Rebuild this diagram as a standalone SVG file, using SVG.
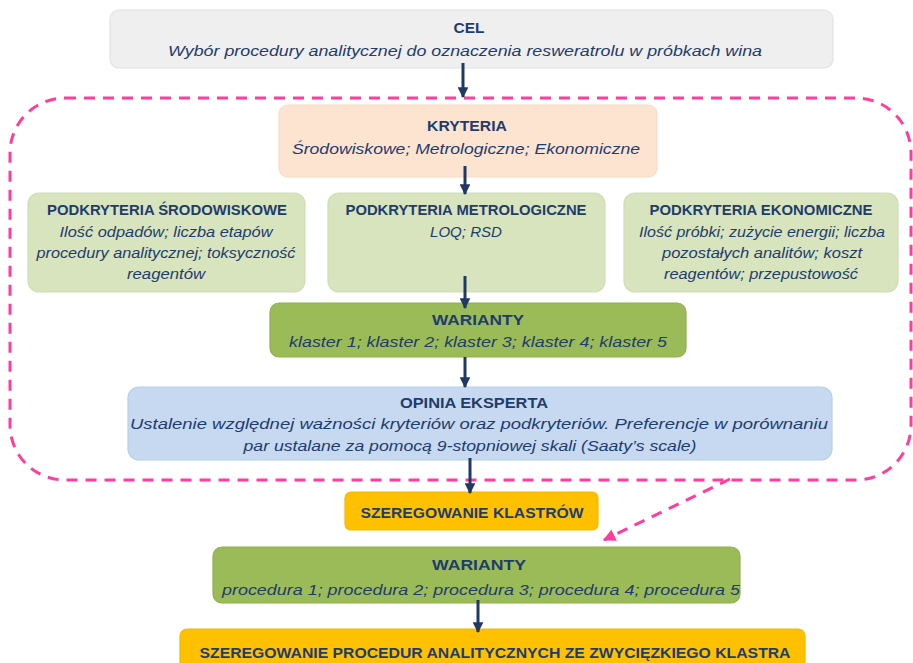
<svg xmlns="http://www.w3.org/2000/svg" width="913" height="663" viewBox="0 0 913 663">
<defs>
<marker id="ah" viewBox="0 0 10 10" refX="9" refY="5" markerWidth="3.6" markerHeight="3.6" orient="auto" markerUnits="strokeWidth"><path d="M0,0 L10,5 L0,10 Z" fill="#1f3864"/></marker>
<marker id="ahp" viewBox="0 0 10 10" refX="9" refY="5" markerWidth="4.2" markerHeight="4.2" orient="auto" markerUnits="strokeWidth"><path d="M0,0 L10,5 L0,10 Z" fill="#ff3d9e"/></marker>
</defs>
<style>
text{font-family:"Liberation Sans",Arial,sans-serif;fill:#1f3c6e;text-anchor:middle}
.t{font-weight:bold;font-size:15.5px}
.s{font-style:italic;font-size:15.5px}
.box{stroke-width:1.2}
.arr{stroke:#1f3864;stroke-width:3;fill:none;marker-end:url(#ah)}
.dash{stroke:#ff3d9e;stroke-width:3;fill:none;stroke-dasharray:11 8}
</style>
<rect width="913" height="663" fill="#fff"/>

<g id="cel">
<rect class="box" x="110" y="10" width="723" height="58" rx="9" fill="#efefef" stroke="#e2e2e2"/>
<text class="t" x="469" y="33" textLength="31" lengthAdjust="spacingAndGlyphs">CEL</text>
<text class="s" x="465" y="56" textLength="594" lengthAdjust="spacingAndGlyphs">Wybór procedury analitycznej do oznaczenia resweratrolu w próbkach wina</text>
</g>

<g id="kryteria">
<rect class="box" x="279" y="105" width="378" height="72" rx="9" fill="#fce4d1" stroke="#f8dcc6"/>
<text class="t" x="467" y="131" textLength="80" lengthAdjust="spacingAndGlyphs">KRYTERIA</text>
<text class="s" x="466" y="154" textLength="348" lengthAdjust="spacingAndGlyphs">Środowiskowe; Metrologiczne; Ekonomiczne</text>
</g>

<g id="pod-srod">
<rect class="box" x="28" y="193" width="277" height="99" rx="11" fill="#d7e4bd" stroke="#cfdeb3"/>
<text class="t" x="167" y="215" textLength="240" lengthAdjust="spacingAndGlyphs">PODKRYTERIA ŚRODOWISKOWE</text>
<text class="s" x="166" y="237" textLength="213" lengthAdjust="spacingAndGlyphs">Ilość odpadów; liczba etapów</text>
<text class="s" x="166" y="258" textLength="259" lengthAdjust="spacingAndGlyphs">procedury analitycznej; toksyczność</text>
<text class="s" x="166" y="279" textLength="78" lengthAdjust="spacingAndGlyphs">reagentów</text>
</g>

<g id="pod-metr">
<rect class="box" x="328" y="193" width="277" height="99" rx="11" fill="#d7e4bd" stroke="#cfdeb3"/>
<text class="t" x="466" y="215" textLength="241" lengthAdjust="spacingAndGlyphs">PODKRYTERIA METROLOGICZNE</text>
<text class="s" x="466" y="237" textLength="72" lengthAdjust="spacingAndGlyphs">LOQ; RSD</text>
</g>

<g id="pod-ekon">
<rect class="box" x="624" y="193" width="274" height="99" rx="11" fill="#d7e4bd" stroke="#cfdeb3"/>
<text class="t" x="761" y="215" textLength="223" lengthAdjust="spacingAndGlyphs">PODKRYTERIA EKONOMICZNE</text>
<text class="s" x="762" y="237" textLength="246" lengthAdjust="spacingAndGlyphs">Ilość próbki; zużycie energii; liczba</text>
<text class="s" x="762" y="258" textLength="200" lengthAdjust="spacingAndGlyphs">pozostałych analitów; koszt</text>
<text class="s" x="761" y="279" textLength="194" lengthAdjust="spacingAndGlyphs">reagentów; przepustowość</text>
</g>

<g id="warianty1">
<rect class="box" x="270" y="303" width="416" height="54" rx="9" fill="#9bbb59" stroke="#8fb04d"/>
<text class="t" x="478" y="325" textLength="92" lengthAdjust="spacingAndGlyphs">WARIANTY</text>
<text class="s" x="478" y="347" textLength="378" lengthAdjust="spacingAndGlyphs">klaster 1; klaster 2; klaster 3; klaster 4; klaster 5</text>
</g>

<g id="opinia">
<rect class="box" x="128" y="387" width="704" height="73" rx="11" fill="#c6d9f1" stroke="#b9cfec"/>
<text class="t" x="474" y="408" textLength="148" lengthAdjust="spacingAndGlyphs">OPINIA EKSPERTA</text>
<text class="s" x="479" y="429" textLength="698" lengthAdjust="spacingAndGlyphs">Ustalenie względnej ważności kryteriów oraz podkryteriów. Preferencje w porównaniu</text>
<text class="s" x="470" y="451" textLength="453" lengthAdjust="spacingAndGlyphs">par ustalane za pomocą 9-stopniowej skali (Saaty’s scale)</text>
</g>

<g id="szereg-klastrow">
<rect class="box" x="345" y="492" width="253" height="38" rx="6" fill="#ffc000" stroke="#f5b800"/>
<text class="t" x="472" y="518" textLength="223" lengthAdjust="spacingAndGlyphs">SZEREGOWANIE KLASTRÓW</text>
</g>

<g id="warianty2">
<rect class="box" x="213" y="547" width="527" height="56" rx="9" fill="#9bbb59" stroke="#8fb04d"/>
<text class="t" x="479" y="570" textLength="94" lengthAdjust="spacingAndGlyphs">WARIANTY</text>
<text class="s" x="481" y="595" textLength="518" lengthAdjust="spacingAndGlyphs">procedura 1; procedura 2; procedura 3; procedura 4; procedura 5</text>
</g>

<g id="szereg-procedur">
<rect class="box" x="180" y="629" width="625" height="50" rx="7" fill="#ffc000" stroke="#f5b800"/>
<text class="t" x="495" y="658" textLength="591" lengthAdjust="spacingAndGlyphs">SZEREGOWANIE PROCEDUR ANALITYCZNYCH ZE ZWYCIĘZKIEGO KLASTRA</text>
</g>

<g id="connectors">
<path class="dash" d="M65,98 H857 A55,55 0 0 1 911,153 V425 A55,55 0 0 1 856,480 H65 A55,55 0 0 1 10,425 V153 A55,55 0 0 1 65,98 Z"/>
<path class="dash" d="M730,479 L604,540" stroke-dasharray="9 6" stroke-width="2.5" marker-end="url(#ahp)"/>
<path class="arr" d="M463,63 V97"/>
<path class="arr" d="M465,166 V194"/>
<path class="arr" d="M465,276 V308"/>
<path class="arr" d="M465,357 V387"/>
<path class="arr" d="M470,458 V493"/>
<path class="arr" d="M478,600 V632"/>
</g>
</svg>
